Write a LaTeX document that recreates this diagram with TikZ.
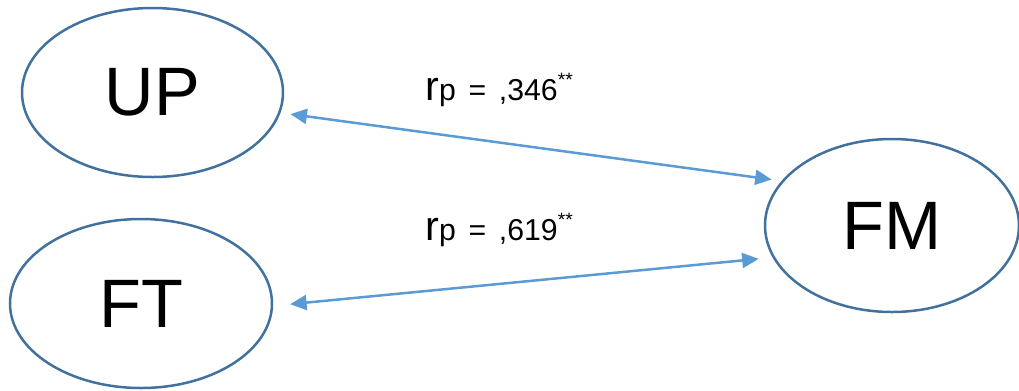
\documentclass[tikz,border=0pt]{standalone}
\usepackage{fontspec}
\setmainfont{Liberation Sans}
\usetikzlibrary{shapes.geometric,arrows.meta}
\definecolor{ellc}{HTML}{41719C}
\definecolor{arrc}{HTML}{5B9BD5}
\tikzset{
  var/.style={ellipse,draw=ellc,line width=0.05cm,inner sep=0pt,font=\fontsize{39pt}{39pt}\selectfont},
  link/.style={draw=arrc,line width=0.05cm,{Triangle[length=0.33cm,width=0.3cm]}-{Triangle[length=0.33cm,width=0.3cm]}},
  lab/.style={anchor=base west,inner sep=0pt}
}
\newcommand{\rlab}[1]{{\fontsize{23.5pt}{23.5pt}\selectfont r}{\fontsize{17.2pt}{17.2pt}\selectfont p\hspace{0.42em}=\hspace{0.42em},#1\raisebox{7.8pt}{\fontsize{11pt}{11pt}\selectfont **}}}
\begin{document}
\begin{tikzpicture}[x=0.02cm,y=-0.02cm]
\useasboundingbox (0,0) rectangle (1019,390);
\node[var,minimum width=261*0.02cm,minimum height=169*0.02cm] (UP) at (152.5,92.5) {UP};
\node[var,minimum width=262*0.02cm,minimum height=169*0.02cm] (FT) at (141,303.5) {FT};
\node[var,minimum width=254*0.02cm,minimum height=173*0.02cm] (FM) at (892,225.5) {FM};
\draw[link,shorten <=0.2cm,shorten >=0.2cm] (UP.-9.2) -- (FM.158.4);
\draw[link,shorten <=0.34cm,shorten >=0.28cm] (FT.-1.5) -- (FM.195.4);
\node[lab] (l1) at (425,100) {\rlab{346}};
\node[lab] (l2) at (425,240) {\rlab{619}};
\end{tikzpicture}
\end{document}
